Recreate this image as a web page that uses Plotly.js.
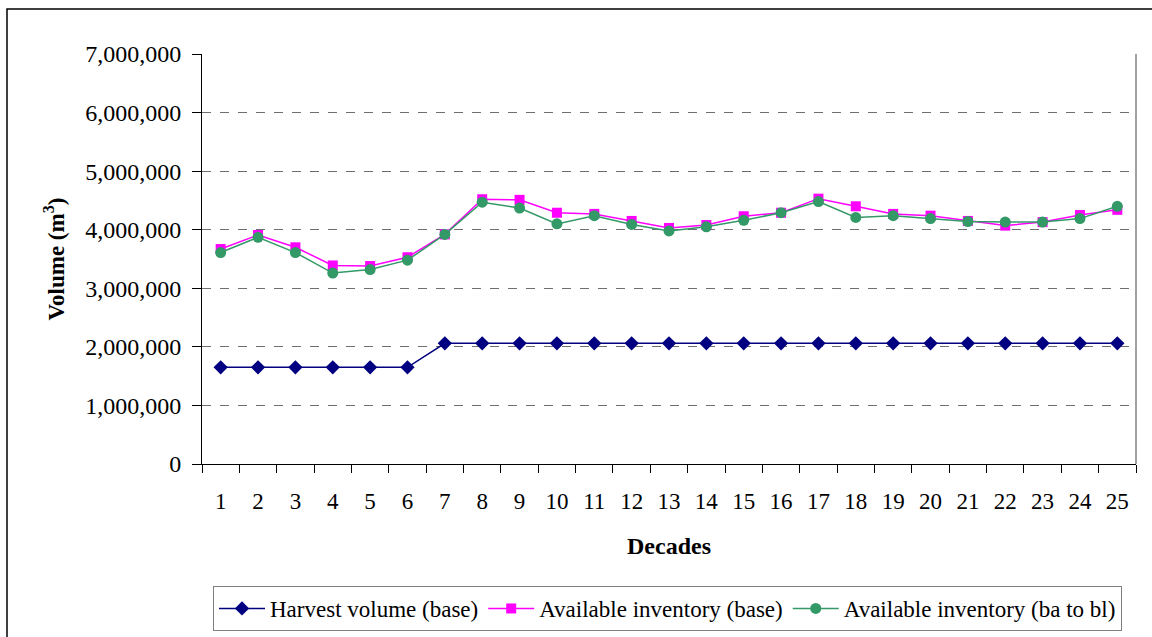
<!DOCTYPE html>
<html>
<head>
<meta charset="utf-8">
<script src="https://cdn.plot.ly/plotly-3.0.1.min.js"></script>
<style>
  html, body { margin: 0; padding: 0; background: #fff; }
  #chart { width: 1152px; height: 637px; }
</style>
</head>
<body>
<div id="chart"></div>
<script>
const decades = [1, 2, 3, 4, 5, 6, 7, 8, 9, 10, 11, 12, 13, 14, 15, 16, 17, 18, 19, 20, 21, 22, 23, 24, 25];
const harvestBase = [1650000, 1650000, 1650000, 1650000, 1650000, 1650000, 2060000, 2060000, 2060000, 2060000, 2060000, 2060000, 2060000, 2060000, 2060000, 2060000, 2060000, 2060000, 2060000, 2060000, 2060000, 2060000, 2060000, 2060000, 2060000];
const inventoryBase = [3670000, 3910000, 3700000, 3390000, 3380000, 3530000, 3920000, 4520000, 4510000, 4290000, 4270000, 4150000, 4030000, 4080000, 4230000, 4290000, 4530000, 4400000, 4270000, 4240000, 4150000, 4070000, 4130000, 4250000, 4340000];
const inventoryBaToBl = [3610000, 3870000, 3610000, 3260000, 3320000, 3480000, 3920000, 4470000, 4370000, 4100000, 4240000, 4090000, 3980000, 4050000, 4160000, 4290000, 4480000, 4210000, 4240000, 4190000, 4140000, 4130000, 4130000, 4190000, 4400000];
const seriesNames = ["Harvest volume (base)", "Available inventory (base)", "Available inventory (ba to bl)"];

const FAM = "Liberation Serif";
const xcats = decades.map(String);

const traces = [
  { x: xcats, y: harvestBase, name: seriesNames[0], type: "scatter", mode: "lines+markers",
    line: { color: "#000080", width: 1.5 }, marker: { symbol: "diamond", size: 11, color: "#000080" } },
  { x: xcats, y: inventoryBase, name: seriesNames[1], type: "scatter", mode: "lines+markers",
    line: { color: "#FF00FF", width: 1.5 }, marker: { symbol: "square", size: 10, color: "#FF00FF" } },
  { x: xcats, y: inventoryBaToBl, name: seriesNames[2], type: "scatter", mode: "lines+markers",
    line: { color: "#339966", width: 1.5 }, marker: { symbol: "circle", size: 11, color: "#339966" } }
];

const L = 202, R = 16, T = 54, B = 173;
const W = 1152 - L - R, H = 637 - T - B;
const px = v => (v - L) / W;
const py = v => (637 - B - v) / H;

const layout = {
  width: 1152, height: 637,
  margin: { l: L, r: R, t: T, b: B, pad: 0, autoexpand: false },
  paper_bgcolor: "#ffffff", plot_bgcolor: "#ffffff",
  font: { family: FAM, size: 23, color: "#000000" },
  showlegend: true,
  legend: {
    orientation: "h",
    xref: "container", yref: "container",
    x: 213 / 1152, xanchor: "left", y: 1 - 586 / 637, yanchor: "top",
    bordercolor: "#808080", borderwidth: 1, bgcolor: "#ffffff",
    font: { family: FAM, size: 23, color: "#000000" },
    itemwidth: 46,
    tracegroupgap: 0
  },
  xaxis: {
    type: "category", range: [-0.5, 24.5], automargin: false,
    showline: true, linecolor: "#000000", linewidth: 1,
    ticks: "outside", ticklen: 8, tickcolor: "#000000", tickson: "boundaries",
    showgrid: false, zeroline: false,
    ticklabelstandoff: 16,
    tickfont: { family: FAM, size: 23, color: "#000000" },
    title: { text: "<b>Decades</b>", font: { family: FAM, size: 24, color: "#000000" }, standoff: 24 }
  },
  yaxis: {
    range: [0, 7000000], dtick: 1000000, tickformat: ",d", automargin: false,
    showline: true, linecolor: "#000000", linewidth: 1,
    ticks: "outside", ticklen: 9, tickcolor: "#000000",
    showgrid: true, gridcolor: "#6e6e6e", griddash: "dash", gridwidth: 1,
    zeroline: false,
    ticklabelstandoff: 6,
    tickfont: { family: FAM, size: 24, color: "#000000" },
    title: { text: "<b>Volume (m<sup>3</sup>)</b>", font: { family: FAM, size: 23, color: "#000000" }, standoff: 14 }
  },
  shapes: [
    { type: "line", xref: "paper", yref: "paper", x0: 1, x1: 1, y0: 0, y1: 1,
      line: { color: "#808080", width: 1.5 } },
    { type: "rect", xref: "paper", yref: "paper", x0: px(7), x1: px(1160), y0: py(645), y1: py(9),
      line: { color: "#000000", width: 1.5 }, fillcolor: "rgba(0,0,0,0)", layer: "below" }
  ]
};

Plotly.newPlot("chart", traces, layout, { displayModeBar: false, staticPlot: true });
</script>
</body>
</html>
